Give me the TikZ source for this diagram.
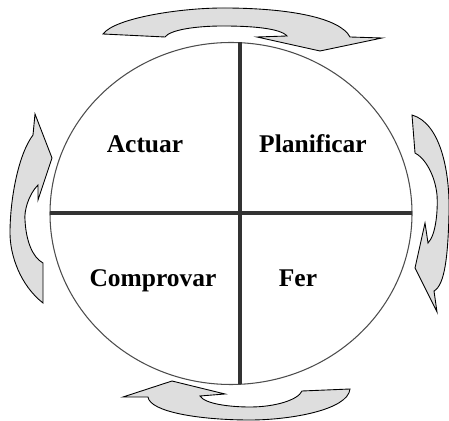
\documentclass[tikz,border=0pt]{standalone}
\usepackage{fontspec}
\setmainfont{Liberation Serif}
\usetikzlibrary{calc}
\definecolor{ArrowClr}{rgb}{0.87,0.87,0.87}
\definecolor{CrossClr}{rgb}{0.2,0.2,0.2}
\definecolor{RingClr}{rgb}{0.3,0.3,0.3}

\begin{document}
\begin{tikzpicture}[x=0.02cm,y=-0.02cm,
  cycarrow/.style={fill=ArrowClr,draw=black,line width=0.5pt,line join=miter},
  phase/.style={font=\fontsize{14.5}{17}\selectfont\bfseries,anchor=base,inner sep=0pt}]
\useasboundingbox (0,0) rectangle (449,421);

% cercle
\draw[RingClr,line width=0.6pt] (231,213.5) ellipse [x radius=181,y radius=171];

% creu
\coordinate (N) at (240,42);
\coordinate (S) at (240,384);
\coordinate (W) at (50,213);
\coordinate (E) at (412,213);
\draw[CrossClr,line width=2.3pt] (N) -- (S);
\draw[CrossClr,line width=2.3pt] (W) -- (E);

% fletxes
\path[cycarrow] (103,34) .. controls (115,18) and (180,8) .. (223,8)
  .. controls (290,8) and (340,18) .. (350,37)
  -- (382,38) -- (320,51) -- (257,37) -- (287,36)
  .. controls (280,28) and (250,26) .. (223,26)
  .. controls (195,26) and (170,30) .. (165,37) -- cycle;
\path[cycarrow] (412,115) .. controls (440,123) and (450,170) .. (449,213)
  .. controls (448,255) and (445,285) .. (434,291)
  -- (437,312) -- (415,268) -- (425,223) -- (428,243)
  .. controls (436,235) and (438,210) .. (437,195)
  .. controls (435,175) and (425,158) .. (415,153) -- cycle;
\path[cycarrow] (350,389) .. controls (348,410) and (290,420) .. (250,420)
  .. controls (200,420) and (150,412) .. (148,397)
  -- (123,397) -- (172,381) -- (225,394) -- (200,396)
  .. controls (205,404) and (230,407) .. (250,407)
  .. controls (275,407) and (298,400) .. (302,391) -- cycle;
\path[cycarrow] (43,303) .. controls (20,285) and (10,255) .. (10,233)
  .. controls (10,200) and (18,155) .. (33,135)
  -- (35,114) -- (52,158) -- (38,200) -- (38,185)
  .. controls (28,195) and (24,212) .. (25,220)
  .. controls (26,240) and (32,257) .. (43,263) -- cycle;

% fases
\node[phase] (actuar) at (145,153) {Actuar};
\node[phase] (planificar) at (313,153) {Planificar};
\node[phase] (comprovar) at (153,287) {Comprovar};
\node[phase] (fer) at (298,287) {Fer};

\end{tikzpicture}
\end{document}
